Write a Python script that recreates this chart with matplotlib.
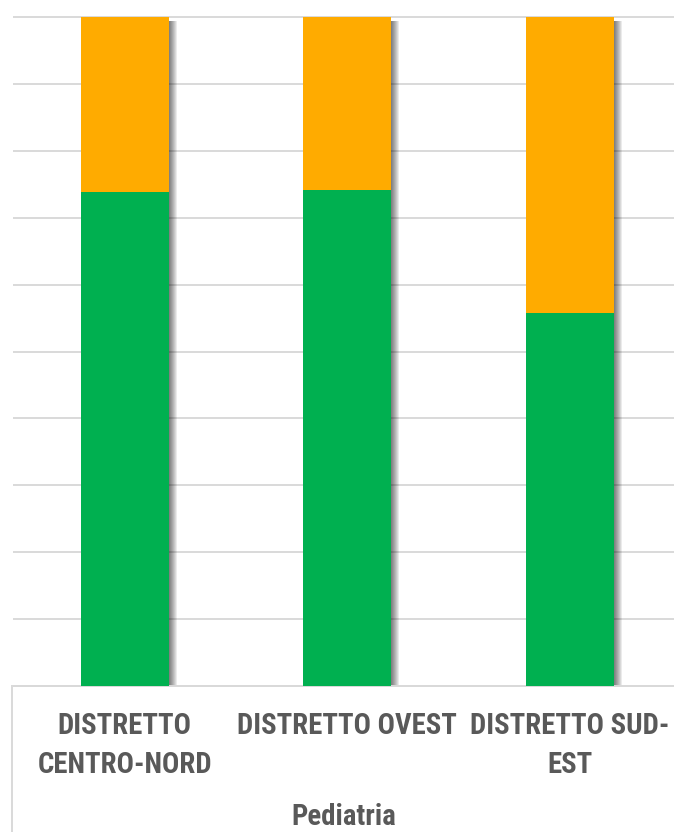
import matplotlib.pyplot as plt
from matplotlib import font_manager
from matplotlib.lines import Line2D

categories = ["DISTRETTO\nCENTRO-NORD", "DISTRETTO OVEST", "DISTRETTO SUD-\nEST"]
green_share = [73.8, 74.2, 55.8]
orange_share = [100 - g for g in green_share]
group_label = "Pediatria"

green = "#00b050"
orange = "#ffab00"
grid_col = "#d9d9d9"
text_col = "#595959"

# narrowest installed sans for the labels
installed = {f.name for f in font_manager.fontManager.ttflist}
label_family = "DejaVu Sans"
for fam in ["Liberation Sans Narrow", "Roboto Condensed", "DejaVu Sans Condensed", "Roboto"]:
    if fam in installed:
        label_family = fam
        break

W, H = 674, 832
fig = plt.figure(figsize=(W / 100, H / 100), dpi=100)

# plot area in pixels: left 13.5, right 681, top 17, bottom 686
left, right, top, bottom = 13.5, 681.0, 17.0, 686.0
ax = fig.add_axes([left / W, 1 - bottom / H, (right - left) / W, (bottom - top) / H])

x = list(range(len(categories)))
width = 0.396
px = (len(x)) / (right - left)  # one pixel in x data units

# soft drop shadow to the right of each bar
for k in range(1, 9):
    ax.bar([xi + k * px for xi in x], [100] * len(x), width=width, bottom=[-0.6] * len(x),
           color="black", alpha=0.08, linewidth=0, zorder=2)

ax.bar(x, green_share, width=width, color=green, linewidth=0, zorder=3)
ax.bar(x, orange_share, width=width, bottom=green_share, color=orange, linewidth=0, zorder=3)

ax.set_xlim(-0.5, len(x) - 0.5)
ax.set_ylim(0, 100)
ax.set_yticks(range(0, 101, 10))
ax.yaxis.grid(True, color=grid_col, linewidth=1.4)
for gl in ax.get_ygridlines():
    gl.set_clip_on(False)
ax.set_axisbelow(True)
ax.tick_params(left=False, bottom=False, labelleft=False, labelbottom=False)
for s in ["left", "right", "top"]:
    ax.spines[s].set_visible(False)
ax.spines["bottom"].set_color(grid_col)
ax.spines["bottom"].set_linewidth(1.4)

# category box line below the axis
fig.add_artist(Line2D([11.5 / W, 11.5 / W], [0, 1 - bottom / H], color=grid_col, lw=1.4))

# size the labels so "DISTRETTO OVEST" spans about 220 px
renderer = fig.canvas.get_renderer()
probe = fig.text(0, 0, categories[1], family=label_family, fontweight="semibold", fontsize=20)
size = 20 * 220 / probe.get_window_extent(renderer).width
probe.remove()

font = dict(family=label_family, fontweight="semibold", color=text_col, fontsize=size)
for xi, lab in zip(x, categories):
    ax.annotate(lab, xy=(xi, 0), xycoords="data", xytext=(0, -26), textcoords="offset pixels",
                ha="center", va="top", linespacing=1.5, **font)

fig.text((left + right) / 2 / W - 0.005, 1 - 817 / H, group_label, ha="center", va="center", **font)

fig.savefig("out.png", dpi=100, facecolor="white")
